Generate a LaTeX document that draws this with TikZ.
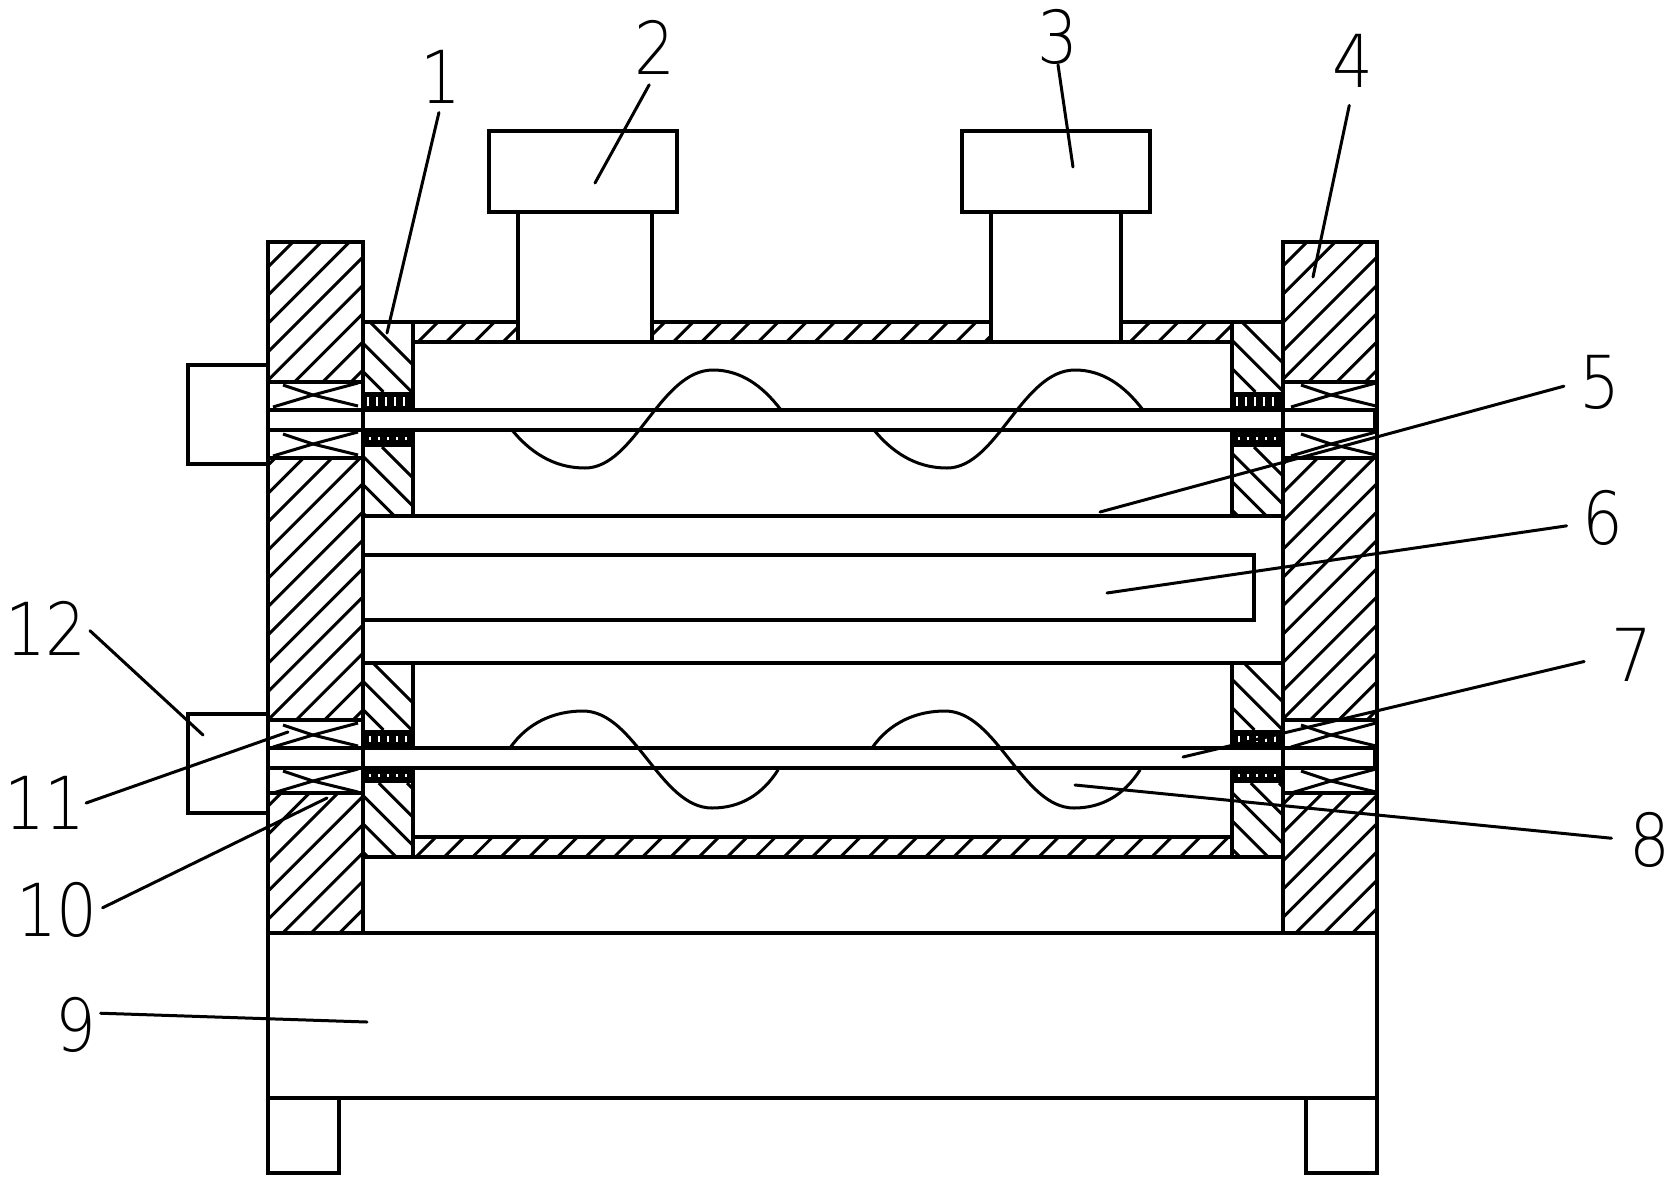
\documentclass[tikz,border=0pt]{standalone}
\usepackage{fontspec}
\newfontfamily\numfont[FakeStretch=0.88]{DejaVu Sans ExtraLight}
\usetikzlibrary{calc}
\usetikzlibrary{positioning}
\tikzset{
  part/.style = {line width=4pt, line cap=rect},
  thinpart/.style = {line width=3.4pt},
  hatchline/.style = {line width=3pt},
  wave/.style = {line width=3pt, line cap=round},
  leader/.style = {line width=3pt, line cap=round},
  sealmark/.style = {white, line width=#1, dash pattern=on 1.5pt off 7.5pt},
  numlabel/.style = {inner sep=0pt, font=\numfont\fontsize{73}{73}\selectfont},
}
% clip box, then lines x+y=const or y-x=const every 28.3
\newcommand{\risehatch}[5]{
  \begin{scope}
    \clip (#1,#2) rectangle (#3,#4);
    \foreach \k in {0,...,60}
      \draw[hatchline] ({#5+28.3*\k-#2},#2) -- ({#5+28.3*\k-#4},#4);
  \end{scope}
}
\newcommand{\fallhatch}[5]{
  \begin{scope}
    \clip (#1,#2) rectangle (#3,#4);
    \foreach \k in {0,...,12}
      \draw[hatchline] ({#2-#5-28.3*\k},#2) -- ({#4-#5-28.3*\k},#4);
  \end{scope}
}
\newcommand{\bearingx}[2]{
  \draw[hatchline] (#1-30,#2-10) -- (#1,#2) -- (#1+45,#2+11);
  \draw[hatchline] (#1-40,#2+12) -- (#1,#2) -- (#1+45,#2-12);
}
\begin{document}
\begin{tikzpicture}[x=1pt,y=-1pt]
  \useasboundingbox (0,0) rectangle (1678,1187);

  % hatching
  \risehatch{268}{242}{363}{382}{535}
  \risehatch{268}{458}{363}{720}{705}
  \risehatch{268}{793}{363}{933}{1046}
  \risehatch{1283}{242}{1377}{382}{1549}
  \risehatch{1283}{458}{1377}{720}{1719}
  \risehatch{1283}{793}{1377}{933}{2059}
  \fallhatch{363}{322}{413}{392}{-48}
  \fallhatch{363}{447}{413}{516}{65}
  \fallhatch{363}{663}{413}{730}{290}
  \fallhatch{363}{783}{413}{857}{291}
  \fallhatch{1232}{322}{1283}{392}{-920}
  \fallhatch{1232}{447}{1283}{516}{-807}
  \fallhatch{1232}{663}{1283}{730}{-581}
  \fallhatch{1232}{783}{1283}{857}{-581}
  \begin{scope}
    \clip (413,322) rectangle (518,342);
    \foreach \k in {0,...,4} \draw[hatchline] ({418+28.3*\k+20},322) -- ({418+28.3*\k},342);
  \end{scope}
  \begin{scope}
    \clip (652,322) rectangle (990,342);
    \foreach \k in {0,...,13} \draw[hatchline] ({645+28.3*\k+20},322) -- ({645+28.3*\k},342);
  \end{scope}
  \begin{scope}
    \clip (1121,322) rectangle (1232,342);
    \foreach \k in {0,...,4} \draw[hatchline] ({1130+28.3*\k+20},322) -- ({1130+28.3*\k},342);
  \end{scope}
  \begin{scope}
    \clip (413,837) rectangle (1232,857);
    \foreach \k in {0,...,29} \draw[hatchline] ({416+28.3*\k+20},837) -- ({416+28.3*\k},857);
  \end{scope}

  % seals
  \foreach \xl in {363,1232} {
    \fill ({\xl},392) rectangle ({\xl+51},410);
    \fill ({\xl},430) rectangle ({\xl+51},447);
    \fill ({\xl},730) rectangle ({\xl+51},748);
    \fill ({\xl},768) rectangle ({\xl+51},783);
    \draw[sealmark=9pt] ({\xl+4},401) -- ({\xl+48},401);
    \draw[sealmark=3pt] ({\xl+6},438) -- ({\xl+46},438);
    \draw[sealmark=6pt] ({\xl+6},739) -- ({\xl+46},739);
    \draw[sealmark=3pt] ({\xl+6},775) -- ({\xl+46},775);
  }

  % bearings
  \foreach \cx in {313,1331} {
    \bearingx{\cx}{395}
    \bearingx{\cx}{444}
    \bearingx{\cx}{735}
    \bearingx{\cx}{781}
  }

  % walls, base and feet
  \draw[part] (268,242) rectangle (363,933);
  \draw[part] (1283,242) rectangle (1377,933);
  \draw[part] (268,933) rectangle (1377,1098);
  \draw[part] (268,1098) rectangle (339,1173);
  \draw[part] (1306,1098) rectangle (1377,1173);
  \foreach \yy in {382,458,720,793} {
    \draw[thinpart] (268,\yy) -- (363,\yy);
    \draw[thinpart] (1283,\yy) -- (1377,\yy);
  }

  % side boxes
  \draw[thinpart] (268,365) -- (188,365) -- (188,464) -- (268,464);
  \draw[thinpart] (268,714) -- (188,714) -- (188,813) -- (268,813);

  % motors
  \draw[part] (489,131) rectangle (677,212);
  \draw[part] (962,131) rectangle (1150,212);
  \draw[thinpart] (518,212) -- (518,342);
  \draw[thinpart] (652,212) -- (652,342);
  \draw[thinpart] (991,212) -- (991,342);
  \draw[thinpart] (1121,212) -- (1121,342);

  % upper chamber and plates
  \draw[part] (363,322) -- (518,322);
  \draw[part] (652,322) -- (991,322);
  \draw[part] (1121,322) -- (1283,322);
  \draw[part] (413,342) -- (1232,342);
  \draw[part] (363,516) -- (1283,516);
  \draw[part] (363,663) -- (1283,663);
  \draw[part] (363,555) -- (1254,555) -- (1254,620) -- (363,620);
  \draw[part] (413,837) -- (1232,837);
  \draw[part] (363,857) -- (1283,857);
  \foreach \xc in {413,1232} {
    \draw[part] (\xc,322) -- (\xc,410);
    \draw[part] (\xc,430) -- (\xc,516);
    \draw[part] (\xc,663) -- (\xc,748);
    \draw[part] (\xc,768) -- (\xc,857);
  }

  % shafts
  \foreach \ys in {410,430,748,768}
    \draw[part] (268,\ys) -- (1377,\ys);
  \fill (1373,410) rectangle (1377,430);
  \fill (1373,748) rectangle (1377,768);

  % screw blades
  \foreach \dx in {0,362} {
    \draw[wave,shift={(\dx,0)}] (512,430) .. controls (535,458) and (560,468) .. (585,468)
      .. controls (635,468) and (660,370) .. (713,370)
      .. controls (740,370) and (762,385) .. (781,410);
    \draw[wave,shift={(\dx,0)}] (510,748) .. controls (528,722) and (555,711) .. (583,711)
      .. controls (635,711) and (660,808) .. (712,808)
      .. controls (740,808) and (762,795) .. (778,770);
  }

  % numbers
  \node[numlabel] (lab1) at (441,77) {1};
  \node[numlabel] (lab2) at (655,47) {2};
  \node[numlabel] (lab3) at (1058,37) {3};
  \node[numlabel] (lab4) at (1353,61) {4};
  \node[numlabel] (lab5) at (1600,382) {5};
  \node[numlabel] (lab6) at (1603,518) {6};
  \node[numlabel] (lab7) at (1632,655) {7};
  \node[numlabel] (lab8) at (1650,840) {8};
  \node[numlabel] (lab9) at (76,1025) {9};
  \node[numlabel] (lab10) at (57,910) {10};
  \node[numlabel] (lab11) at (45,803) {11};
  \node[numlabel] (lab12) at (46,628) {12};

  \coordinate (tip1) at (387,333);
  \coordinate (tip2) at (595,183);
  \coordinate (tip3) at (1073,167);
  \coordinate (tip4) at (1313,277);
  \coordinate (tip5) at (1100,512);
  \coordinate (tip6) at (1107,593);
  \coordinate (tip7) at (1183,757);
  \coordinate (tip8) at (1075,785);
  \coordinate (tip9) at (367,1022);
  \coordinate (tip10) at (327,798);
  \coordinate (tip11) at (288,732);
  \coordinate (tip12) at (203,735);

  \draw[leader,shorten <=9pt] (lab1.south) -- (tip1);
  \draw[leader,shorten <=12pt] (lab2.south) -- (tip2);
  \draw[leader] (lab3.south) -- (tip3);
  \draw[leader,shorten <=18pt] (lab4.south) -- (tip4);
  \draw[leader,shorten <=16pt] (lab5.west) -- (tip5);
  \draw[leader,shorten <=16pt] (lab6.195) -- (tip6);
  \draw[leader,shorten <=28pt] (lab7.west) -- (tip7);
  \draw[leader,shorten <=18pt] (lab8.west) -- (tip8);
  \draw[leader,shorten <=4pt] (lab9.30) -- (tip9);
  \draw[leader,shorten <=5pt] (lab10.east) -- (tip10);
  \draw[leader] (lab11.east) -- (tip11);
  \draw[leader,shorten <=4pt] (lab12.east) -- (tip12);
\end{tikzpicture}
\end{document}
